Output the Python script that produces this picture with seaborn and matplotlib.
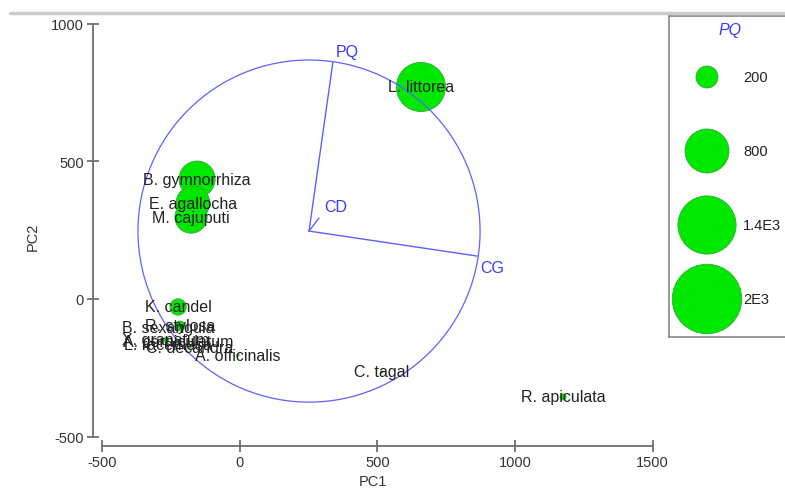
import numpy as np
import pandas as pd
import matplotlib
matplotlib.use('Agg')
import matplotlib.pyplot as plt
from matplotlib.patches import Circle
from matplotlib.lines import Line2D
import seaborn as sns

# --- data (PCA bubble plot, bubble area ~ PQ) ---
species = ["L. littorea", "B. gymnorrhiza", "E. agallocha", "M. cajuputi", "K. candel",
           "B. sexangula", "R. stylosa", "X. granatum", "L. racemosa", "A. corniculatum",
           "C. decandra", "A. officinalis", "C. tagal", "R. apiculata"]
pc1 = [658, -156, -171, -178, -225, -262, -218, -269, -262, -225, -182, -7, 516, 1175]
pc2 = [771, 436, 349, 298, -29, -102, -98, -149, -167, -156, -175, -204, -265, -356]
pq = [1000, 540, 470, 430, 110, 3, 40, 10, 3, 3, 2, 2, 2, 15]

# vector overlay (correlations scaled to circle radius)
vec_names = ["PQ", "CD", "CG"]
vec_r1 = [0.14, 0.058, 0.982]
vec_r2 = [0.99, 0.076, -0.146]
circle_x, circle_y, circle_r = 251, 247, 622

legend_pq = [200, 800, 1400, 2000]
legend_labels = ["200", "800", "1.4E3", "2E3"]

x_ticks = [-500, 0, 500, 1000, 1500]
y_ticks = [-500, 0, 500, 1000]

# --- style ---
sns.set_style("white")
plt.rcParams['font.family'] = ['Liberation Sans', 'DejaVu Sans']
plt.rcParams['axes.unicode_minus'] = False

GREEN = "#00e800"
EDGE = "#33aa33"
BLUE_LINE = "#6060ff"
BLUE_TXT = "#3a3aff"
AXIS_GREY = "#707070"
SIZES = (0, 2508)
SIZE_NORM = (0, 2000)

df = pd.DataFrame({"species": species, "PC1": pc1, "PC2": pc2, "PQ": pq})

W, H = 785, 489
fig = plt.figure(figsize=(W / 100, H / 100), dpi=100)

# main axes: equal scale, 0.275 px per unit
ax = fig.add_axes([93 / W, (H - 447) / H, (W - 93) / W, (447 - 17) / H])
ax.set_xlim(-534.5, 1981.8)
ax.set_ylim(-534.5, 1029)

sns.scatterplot(data=df, x="PC1", y="PC2", size="PQ", sizes=SIZES, size_norm=SIZE_NORM,
                color=GREEN, edgecolor=EDGE, linewidth=0.6, legend=False, ax=ax, zorder=2)

# correlation circle and vectors
ax.add_patch(Circle((circle_x, circle_y), circle_r, fill=False, color=BLUE_LINE, lw=0.9, zorder=3))
offsets = {"PQ": (10, 7), "CD": (12, 8), "CG": (11, -8)}
for name, r1, r2 in zip(vec_names, vec_r1, vec_r2):
    ex, ey = circle_x + r1 * circle_r, circle_y + r2 * circle_r
    ax.plot([circle_x, ex], [circle_y, ey], color=BLUE_LINE, lw=1.0, zorder=3)
    ax.annotate(name, (ex, ey), xytext=offsets[name], textcoords="offset points",
                ha="center", va="center", color=BLUE_TXT, fontsize=11.5, zorder=4)

for s, x, y in zip(species, pc1, pc2):
    ax.text(x, y, s, ha="center", va="center", fontsize=11.5, color="#222222", zorder=5)

# axes styling (detached PRIMER-like spines)
for side in ["top", "right"]:
    ax.spines[side].set_visible(False)
ax.spines["left"].set_bounds(-500, 1000)
ax.spines["bottom"].set_bounds(-500, 1500)
for side in ["left", "bottom"]:
    ax.spines[side].set_color(AXIS_GREY)
    ax.spines[side].set_linewidth(1.3)
ax.set_xticks(x_ticks)
ax.set_yticks(y_ticks)
ax.tick_params(bottom=True, left=True, direction="inout", length=9, width=1.3,
               color=AXIS_GREY, labelsize=10.5, labelcolor="#333333", pad=2)
ax.set_xlabel("PC1", fontsize=10.5, color="#333333")
ax.set_ylabel("PC2", fontsize=10.5, color="#333333")
ax.xaxis.set_label_coords((373 - 93) / 692, (447 - 475) / 430)
ax.yaxis.set_label_coords((40 - 93) / 692, (447 - 237) / 430)

# bubble legend box (runs off the right edge like the reference)
lx0, lx1, ly0, ly1 = 669, 830, 17, 338
lax = fig.add_axes([lx0 / W, (H - ly1) / H, (lx1 - lx0) / W, (ly1 - ly0) / H])
lax.set_xlim(lx0 - 707, lx1 - 707)
lax.set_ylim((ly1 - 78) / 74, (ly0 - 78) / 74)
sns.scatterplot(x=[0] * len(legend_pq), y=list(range(len(legend_pq))), size=legend_pq,
                sizes=SIZES, size_norm=SIZE_NORM, color=GREEN, edgecolor=EDGE,
                linewidth=0.6, legend=False, ax=lax, clip_on=False)
for i, lab in enumerate(legend_labels):
    lax.text(36, i, lab, ha="left", va="center", fontsize=10.5, color="#222222")
lax.text(23, (30 - 78) / 74, "PQ", ha="center", va="center", fontsize=11.5,
         style="italic", color=BLUE_TXT)
lax.set_xticks([])
lax.set_yticks([])
lax.set_xlabel("")
lax.set_ylabel("")
for sp in lax.spines.values():
    sp.set_visible(True)
    sp.set_color("#888888")
    sp.set_linewidth(1.2)

# window edge line at the top
fig.add_artist(Line2D([10 / W, 1], [1 - 14 / H] * 2, transform=fig.transFigure,
                      color="#cccccc", lw=2.5))

fig.savefig("out.png", dpi=100)
